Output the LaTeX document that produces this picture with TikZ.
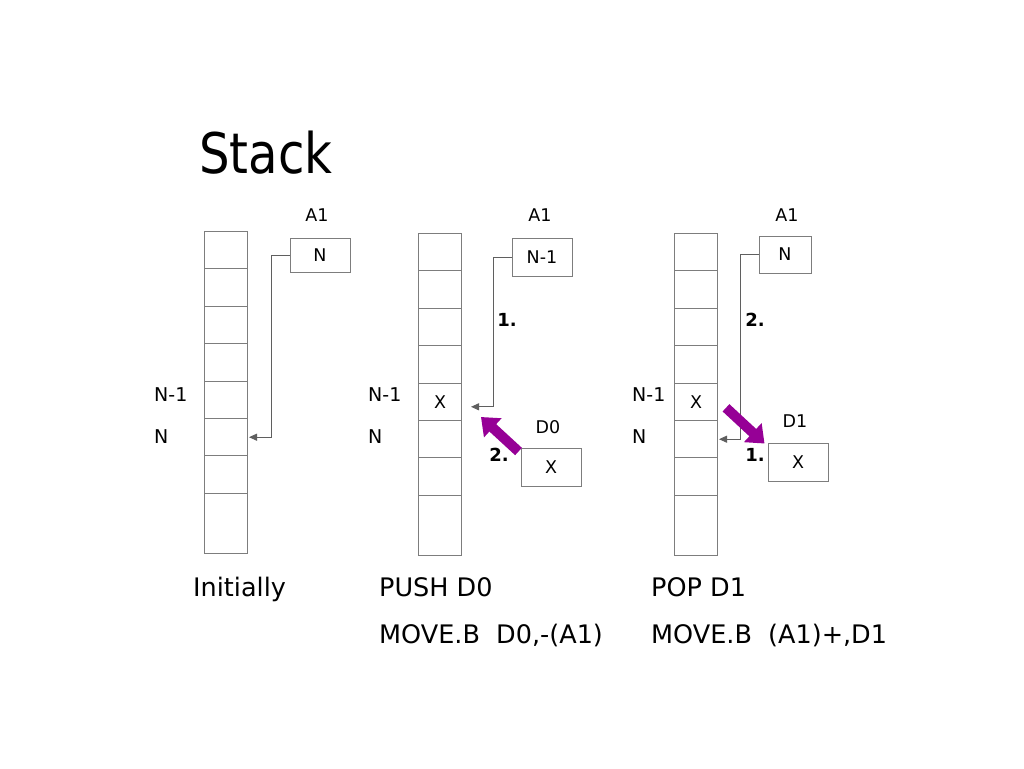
\documentclass[tikz,border=0pt]{standalone}
\usepackage{fontspec}
\setmainfont{DejaVu Sans}
\newfontfamily\titlefont[FakeStretch=0.86]{DejaVu Sans}
\usetikzlibrary{arrows.meta}
\definecolor{boxgray}{RGB}{125,125,125}
\definecolor{linegray}{RGB}{95,95,95}
\definecolor{movecol}{RGB}{150,0,150}
\begin{document}
\begin{tikzpicture}[x=1pt,y=-1pt,
  cell/.style={draw=boxgray,line width=1pt,minimum width=43pt,minimum height=37.4pt,inner sep=0pt,anchor=north west},
  lastcell/.style={cell,minimum height=60pt},
  regbox/.style={draw=boxgray,line width=1pt,inner sep=0pt,font=\fontsize{17.5}{21}\selectfont},
  small/.style={inner sep=0pt,font=\fontsize{17.5}{21}\selectfont},
  side/.style={inner sep=0pt,anchor=west,font=\fontsize{19}{23}\selectfont},
  step label/.style={inner sep=0pt,font=\fontsize{18}{22}\selectfont\bfseries},
  caption/.style={inner sep=0pt,anchor=base west,font=\fontsize{25.5}{30}\selectfont},
  conn/.style={draw=linegray,line width=1pt,-{Triangle[length=8pt,width=7pt]}},
  move/.style={draw=movecol,line width=10pt,-{Triangle[length=16pt,width=25pt]}}]
\fill[white] (0,0) rectangle (1024,768);
\useasboundingbox (0,0) rectangle (1024,768);

% title
\node[inner sep=0pt,anchor=base west,font=\titlefont\fontsize{56}{64}\selectfont] (title) at (199,173) {Stack};

% stacks
\foreach \i in {1,...,7} {
  \node[cell] (s1c\i) at (204,{231+(\i-1)*37.4}) {};
  \node[cell] (s2c\i) at (418,{233+(\i-1)*37.4}) {};
  \node[cell] (s3c\i) at (674,{233+(\i-1)*37.4}) {};
}
\node[lastcell] (s1c8) at (204,{231+7*37.4}) {};
\node[lastcell] (s2c8) at (418,{233+7*37.4}) {};
\node[lastcell] (s3c8) at (674,{233+7*37.4}) {};

\node[small] (x2) at (s2c5.center) {X};
\node[small] (x3) at (s3c5.center) {X};

% side labels
\node[side] (l1a) at (154,395) {N-1};
\node[side] (l1b) at (154,437) {N};
\node[side] (l2a) at (368,395) {N-1};
\node[side] (l2b) at (368,437) {N};
\node[side] (l3a) at (632,395) {N-1};
\node[side] (l3b) at (632,437) {N};

% A1 registers
\node[small] (a1t1) at (317,215) {A1};
\node[small] (a1t2) at (540,215) {A1};
\node[small] (a1t3) at (787,215) {A1};
\node[regbox,minimum width=60pt,minimum height=34pt] (a1a) at (320,255) {N};
\node[regbox,minimum width=60pt,minimum height=38pt] (a1b) at (542,257) {N-1};
\node[regbox,minimum width=52pt,minimum height=37pt] (a1c) at (785,254.5) {N};

% data registers
\node[small] (d0t) at (548,427) {D0};
\node[regbox,minimum width=60pt,minimum height=38pt] (d0) at (551,467) {X};
\node[small] (d1t) at (795,421) {D1};
\node[regbox,minimum width=60pt,minimum height=38pt] (d1) at (798,462) {X};

% connectors
\draw[conn] (a1a.west) -- ++(-18,0) |- ([xshift=1pt]s1c6.east);
\draw[conn] (a1b.west) -- ++(-18,0) |- ([shift={(9,5)}]s2c5.east);
\draw[conn] (a1c.west) -- ++(-18,0) |- ([xshift=1pt]s3c6.east);

% purple moves
\draw[move] ([shift={(-2,4)}]d0.north west) -- ([shift={(19,-4)}]s2c5.south east);
\draw[move] ([shift={(8,6)}]s3c5.east) -- ([shift={(-3,1)}]d1.north west);

% step labels
\node[step label] (st1) at (507,320) {1.};
\node[step label] (st2) at (499,455) {2.};
\node[step label] (st3) at (755,320) {2.};
\node[step label] (st4) at (755,455) {1.};

% captions
\node[caption] (c1) at (193,596) {Initially};
\node[caption] (c2) at (379,596) {PUSH D0};
\node[caption] (c3) at (651,596) {POP D1};
\node[caption] (c4) at (379,643) {MOVE.B\ \ D0,-(A1)};
\node[caption] (c5) at (651,643) {MOVE.B\ \ (A1)+,D1};
\end{tikzpicture}
\end{document}
